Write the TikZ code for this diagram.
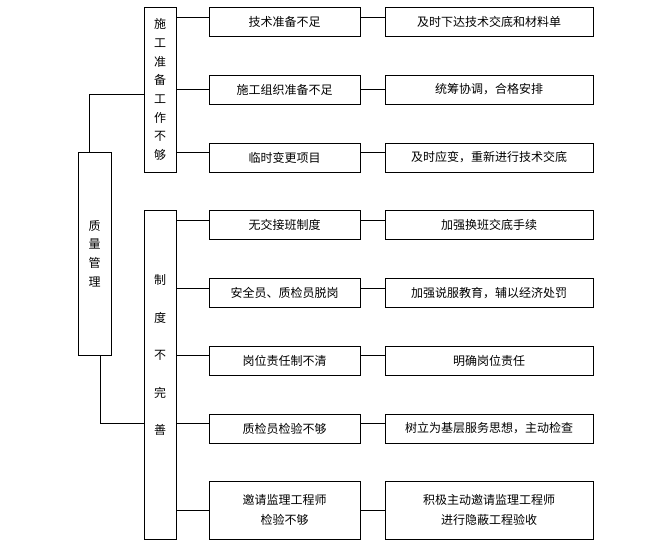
\documentclass[tikz,border=0pt]{standalone}
\usepackage{fontspec}
\setmainfont{Noto Sans CJK SC}
\begin{document}
\begin{tikzpicture}[x=1pt,y=-1pt,line width=1pt,
  box/.style={draw,minimum height=29pt,inner sep=2pt,align=center,font=\fontsize{12}{20}\selectfont},
  cause/.style={box,minimum width=151pt},
  fix/.style={box,minimum width=208pt},
  vbox/.style={box,minimum width=32pt,font=\fontsize{12}{18.7}\selectfont}]
\fill[white] (0,0) rectangle (658,552);
\useasboundingbox (0,0) rectangle (658,552);
\node[vbox,minimum width=33pt,minimum height=203pt] (root) at (94.5,253.5) {质\\量\\管\\理};
\node[vbox,minimum height=165pt] (grpA) at (160,89.5) {施\\工\\准\\备\\工\\作\\不\\够};
\node[vbox,minimum height=329pt] (grpB) at (160,374.5) {};
\node[align=center,font=\fontsize{12}{37.5}\selectfont] (grpBtxt) at (160,355) {制\\度\\不\\完\\善};
\node[cause] (c1) at (284.5,21.5) {技术准备不足};
\node[cause] (c2) at (284.5,89.5) {施工组织准备不足};
\node[cause] (c3) at (284.5,157.5) {临时变更项目};
\node[cause] (c4) at (284.5,224.5) {无交接班制度};
\node[cause] (c5) at (284.5,293) {安全员、质检员脱岗};
\node[cause] (c6) at (284.5,360.5) {岗位责任制不清};
\node[cause] (c7) at (284.5,428.5) {质检员检验不够};
\node[cause,minimum height=58pt] (c8) at (284.5,510) {邀请监理工程师\\检验不够};
\node[fix] (m1) at (489,21.5) {及时下达技术交底和材料单};
\node[fix] (m2) at (489,89.5) {统筹协调，合格安排};
\node[fix] (m3) at (489,157.5) {及时应变，重新进行技术交底};
\node[fix] (m4) at (489,224.5) {加强换班交底手续};
\node[fix] (m5) at (489,293) {加强说服教育，辅以经济处罚};
\node[fix] (m6) at (489,360.5) {明确岗位责任};
\node[fix] (m7) at (489,428.5) {树立为基层服务思想，主动检查};
\node[fix,minimum height=58pt] (m8) at (489,510) {积极主动邀请监理工程师\\进行隐蔽工程验收};
\draw ([xshift=-5.5pt]root.north) |- ([yshift=-4.5pt]grpA.west);
\draw ([xshift=5.5pt]root.south) |- ([yshift=5.5pt]grpB.west |- c7.west);
\foreach \g/\n/\d in {grpA/1/4.5,grpA/2/0,grpA/3/5.5,grpB/4/4.5,grpB/5/5,grpB/6/5.5,grpB/7/5.5,grpB/8/0}{
  \draw ([yshift=\d pt]\g.east |- c\n.west) -- ([yshift=\d pt]c\n.west);
  \draw ([yshift=\d pt]c\n.east) -- ([yshift=\d pt]m\n.west);
}
\end{tikzpicture}
\end{document}
